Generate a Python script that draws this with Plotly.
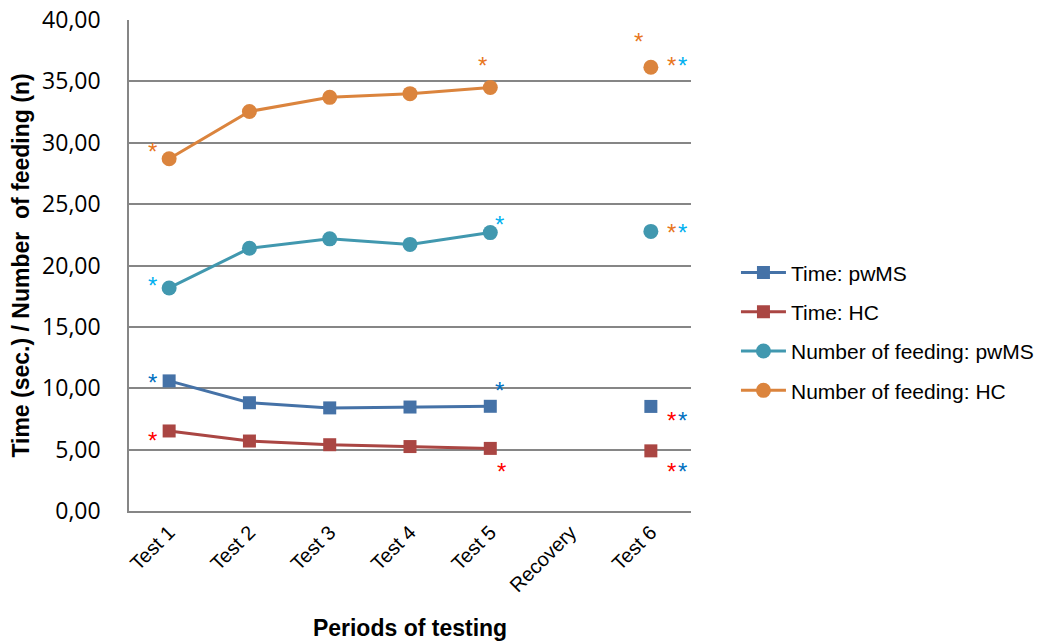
import plotly.graph_objects as go

categories = ["Test 1", "Test 2", "Test 3", "Test 4", "Test 5", "Recovery", "Test 6"]
time_pwms = [10.60, 8.82, 8.40, 8.47, 8.53, None, 8.52]
time_hc = [6.52, 5.70, 5.40, 5.25, 5.10, None, 4.90]
feed_pwms = [18.17, 21.40, 22.17, 21.72, 22.68, None, 22.78]
feed_hc = [28.70, 32.55, 33.70, 34.00, 34.50, None, 36.15]
y_ticks = [0, 5, 10, 15, 20, 25, 30, 35, 40]

C_BLUE = "#4572A7"
C_RED = "#AA4643"
C_TEAL = "#4198AF"
C_ORANGE = "#DB843D"
A_ORANGE = "#E8761E"
A_CYAN = "#00B0F0"
A_BLUE = "#0070C0"
A_RED = "#FF0000"

FONT = "Liberation Sans, Arial, sans-serif"
NUMFONT = "Open Sans, Liberation Sans, sans-serif"

fig = go.Figure()
series = [
    ("Time: pwMS", time_pwms, C_BLUE, "square", 13),
    ("Time: HC", time_hc, C_RED, "square", 13),
    ("Number of feeding: pwMS", feed_pwms, C_TEAL, "circle", 15),
    ("Number of feeding: HC", feed_hc, C_ORANGE, "circle", 15),
]
for i, (name, vals, col, sym, sz) in enumerate(series):
    fig.add_trace(go.Scatter(
        x=categories, y=vals, name=name, mode="lines+markers",
        line=dict(color=col, width=3),
        marker=dict(color=col, symbol=sym, size=sz),
        connectgaps=False, legendgroup=f"g{i}",
    ))

# significance asterisks: (category index, series values, [(color, xshift, yshift)])
stars = [
    (0, feed_hc, [(A_ORANGE, -17, 10)]),
    (0, feed_pwms, [(A_CYAN, -17, 5)]),
    (0, time_pwms, [(A_BLUE, -17, 1)]),
    (0, time_hc, [(A_RED, -17, -7)]),
    (4, feed_hc, [(A_ORANGE, -8, 25)]),
    (4, feed_pwms, [(A_CYAN, 9, 11)]),
    (4, time_pwms, [(A_BLUE, 9, 19)]),
    (4, time_hc, [(A_RED, 11, -20)]),
    (6, feed_hc, [(A_ORANGE, -12, 29), (A_ORANGE, 21, 5), (A_CYAN, 32, 5)]),
    (6, feed_pwms, [(A_ORANGE, 21, 2), (A_CYAN, 32, 2)]),
    (6, time_pwms, [(A_RED, 21, -11), (A_BLUE, 32, -11)]),
    (6, time_hc, [(A_RED, 21, -18), (A_BLUE, 32, -18)]),
]
for idx, vals, marks in stars:
    for col, dx, dy in marks:
        fig.add_annotation(
            x=idx, y=vals[idx], xref="x", yref="y", text="*",
            showarrow=False, xshift=dx, yshift=dy - 3,
            font=dict(family=FONT, size=24, color=col),
        )

fig.update_layout(
    width=1040, height=644,
    margin=dict(l=129, r=349, t=20, b=133, autoexpand=False),
    paper_bgcolor="white", plot_bgcolor="white",
    separators=",.",
    font=dict(family=FONT, color="black"),
    showlegend=True,
    legend=dict(
        x=1.08, xanchor="left", y=0.365, yanchor="middle",
        font=dict(family=FONT, size=21, color="black"),
        tracegroupgap=9, itemwidth=45, bgcolor="rgba(0,0,0,0)",
    ),
    xaxis=dict(
        type="category", categoryorder="array", categoryarray=categories,
        range=[-0.5, 6.5], showgrid=False, automargin=False,
        showline=True, linecolor="#868686", linewidth=1.5,
        tickangle=-45, tickfont=dict(family=FONT, size=20),
        ticks="", zeroline=False,
        title=dict(text="<b>Periods of testing</b>", font=dict(family=FONT, size=23), standoff=25),
    ),
    yaxis=dict(
        range=[0, 40], tickvals=y_ticks, tickformat=".2f", automargin=False,
        showgrid=True, gridcolor="#868686", gridwidth=1.5,
        showline=True, linecolor="#868686", linewidth=1.5,
        zeroline=False, ticks="", ticklabelstandoff=22,
        tickfont=dict(family=NUMFONT, size=23),
        title=dict(text="<b>Time (sec.) / Number  of feeding (n)</b>", font=dict(family=FONT, size=23), standoff=6),
    ),
)

fig.write_html("out.html")
